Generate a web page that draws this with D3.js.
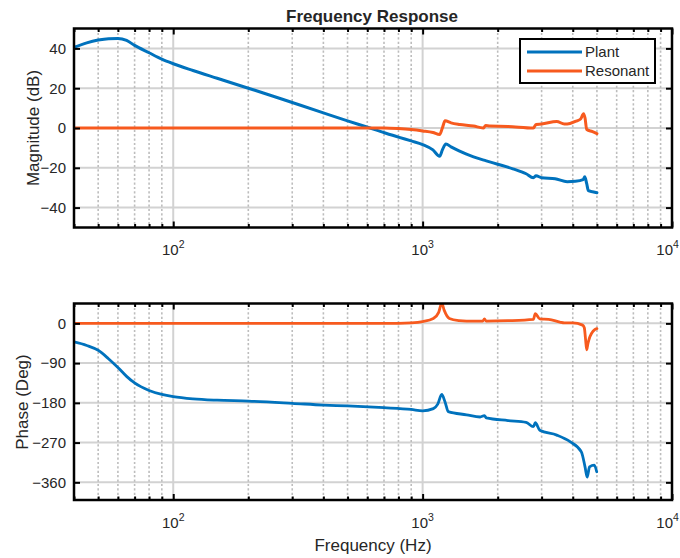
<!DOCTYPE html>
<html><head><meta charset="utf-8">
<script src="https://cdn.jsdelivr.net/npm/d3@7"></script>
<style>
body{margin:0;background:#fff}
text{font-family:"Liberation Sans",Arial,Helvetica,sans-serif;fill:#262626}
</style>
</head><body>
<svg id="c" width="680" height="558"></svg>
<script>
// ---------- data ----------
const seriesNames = ["Plant", "Resonant"];
const seriesColors = ["#0072BD", "#F75A1E"];

const xMajorTicks = [100, 1000, 10000];
const xMinorTicks = [40, 50, 60, 70, 80, 90, 200, 300, 400, 500, 600, 700, 800, 900,
                     2000, 3000, 4000, 5000, 6000, 7000, 8000, 9000];
const magTicks = [-40, -20, 0, 20, 40];
const phaseTicks = [-360, -270, -180, -90, 0];

const plantMagFreq = [40, 45, 50, 55, 60, 65, 70, 80, 90, 100, 120, 150, 200, 250, 300, 400, 500, 615,
  700, 800, 900, 1000, 1100, 1170, 1200, 1240, 1300, 1400, 1600, 1800, 2000, 2300, 2600, 2780, 2850,
  3000, 3400, 3800, 4100, 4400, 4470, 4550, 4620, 4800, 5000];
const plantMag = [40.5, 42.8, 44.2, 44.9, 45.0, 44.0, 41.5, 37.8, 34.6, 32.3, 28.9, 25.0, 20.0, 16.1, 12.8, 7.6, 3.6, 0,
  -2.3, -4.6, -6.5, -8.3, -11.0, -14.2, -11.0, -8.0, -9.5, -11.5, -14.5, -16.5, -18.2, -20.5, -23.0, -25.0, -24.0,
  -25.0, -25.5, -27.0, -26.8, -26.0, -24.5, -28.0, -31.5, -32.0, -32.5];

const resMagFreq = [40, 700, 800, 900, 1000, 1100, 1170, 1200, 1230, 1300, 1410, 1600, 1750, 1790, 1850, 2200,
  2780, 2850, 3000, 3450, 3700, 3900, 4140, 4300, 4420, 4480, 4550, 4800, 5000];
const resMag = [0, 0, -0.3, -0.8, -1.5, -2.3, -3.3, 0, 3.6, 2.6, 1.8, 1.0, 0.0, 1.2, 1.0, 0.8,
  0.0, 1.8, 2.0, 3.3, 2.0, 2.3, 3.5, 4.5, 7.2, 5.0, -0.8, -1.8, -2.8];

const plantPhaseFreq = [40, 45, 50, 55, 60, 65, 70, 80, 90, 100, 120, 150, 200, 300, 400, 500, 700, 900,
  1000, 1104, 1150, 1193, 1230, 1268, 1500, 1700, 1770, 1800, 2200, 2600, 2780, 2830, 2950, 3450, 3900,
  4330, 4480, 4570, 4670, 4880, 4990];
const plantPhase = [-42, -50, -61, -80, -100, -120, -135, -152, -161, -166, -171, -174, -176, -181, -185, -187, -191, -195,
  -198, -193, -183, -161, -178, -200, -207, -212, -209, -214, -220, -224, -234, -225, -242, -253, -268,
  -291, -325, -348, -325, -321, -336];

const resPhaseFreq = [40, 800, 900, 1000, 1104, 1160, 1193, 1220, 1280, 1400, 1500, 1740, 1770, 1800, 2200,
  2780, 2830, 2950, 3200, 3550, 3700, 4000, 4380, 4450, 4500, 4550, 4600, 4650, 4900, 5000];
const resPhase = [0, 0, 1, 4, 11, 25, 46, 30, 11, 6, 5, 5, 10, 5, 6,
  9, 22, 10, 9, 3, 1, 1, -4, -10, -35, -60, -46, -36, -14, -12];

// ---------- layout ----------
const svg = d3.select("#c");
const x = d3.scaleLog().domain([40, 10000]).range([74, 672]);

const panels = [
  { top: 28.5, bottom: 227.5, domain: [-50, 50], ticks: magTicks, label: "Magnitude (dB)", labelX: 39, labelY: 128,
    series: [[plantMagFreq, plantMag], [resMagFreq, resMag]], xLabY: 255, width: 3 },
  { top: 303.5, bottom: 500, domain: [-400, 45], ticks: phaseTicks, label: "Phase (Deg)", labelX: 28, labelY: 402,
    series: [[plantPhaseFreq, plantPhase], [resPhaseFreq, resPhase]], xLabY: 528, width: 2.8 }
];

panels.forEach((p, pi) => {
  const y = d3.scaleLinear().domain(p.domain).range([p.bottom, p.top]);
  const x0 = x.range()[0], x1 = x.range()[1];
  const g = svg.append("g");

  // major grid
  g.append("g").selectAll("line").data(xMajorTicks).join("line")
    .attr("x1", d => x(d)).attr("x2", d => x(d)).attr("y1", p.top).attr("y2", p.bottom)
    .attr("stroke", "#d2d2d2").attr("stroke-width", 2);
  g.append("g").selectAll("line").data(p.ticks).join("line")
    .attr("x1", x0).attr("x2", x1).attr("y1", d => y(d)).attr("y2", d => y(d))
    .attr("stroke", "#d2d2d2").attr("stroke-width", 2);
  // minor grid (dotted)
  g.append("g").selectAll("line").data(xMinorTicks).join("line")
    .attr("x1", d => x(d)).attr("x2", d => x(d)).attr("y1", p.top).attr("y2", p.bottom)
    .attr("stroke", "#bdbdbd").attr("stroke-width", 1.6).attr("stroke-dasharray", "2.2,2.2");

  // clip
  const cid = "clip" + pi;
  svg.append("clipPath").attr("id", cid).append("rect")
    .attr("x", x0).attr("y", p.top).attr("width", x1 - x0).attr("height", p.bottom - p.top);

  // lines
  const line = d3.line().x(d => x(d[0])).y(d => y(d[1])).curve(d3.curveMonotoneX);
  const lg = g.append("g").attr("clip-path", `url(#${cid})`);
  p.series.forEach((s, si) => {
    const pts = s[0].map((f, i) => [f, s[1][i]]);
    lg.append("path").datum(pts).attr("d", line).attr("fill", "none")
      .attr("stroke", seriesColors[si]).attr("stroke-width", p.width)
      .attr("stroke-linejoin", "round").attr("stroke-linecap", "round");
  });

  // ticks via d3 axes (inward)
  const styleAxis = sel => { sel.select(".domain").remove(); sel.selectAll(".tick line").attr("stroke", "#000").attr("stroke-width", 2); };
  g.append("g").attr("transform", `translate(0,${p.bottom})`)
    .call(d3.axisBottom(x).tickValues(xMajorTicks).tickSizeInner(-6).tickSizeOuter(0).tickFormat(""))
    .call(styleAxis);
  g.append("g").attr("transform", `translate(0,${p.top})`)
    .call(d3.axisTop(x).tickValues(xMajorTicks).tickSizeInner(-6).tickSizeOuter(0).tickFormat(""))
    .call(styleAxis);
  g.append("g").attr("transform", `translate(0,${p.bottom})`)
    .call(d3.axisBottom(x).tickValues(xMinorTicks).tickSizeInner(-3.5).tickSizeOuter(0).tickFormat(""))
    .call(styleAxis);
  g.append("g").attr("transform", `translate(0,${p.top})`)
    .call(d3.axisTop(x).tickValues(xMinorTicks).tickSizeInner(-3.5).tickSizeOuter(0).tickFormat(""))
    .call(styleAxis);
  g.append("g").attr("transform", `translate(${x0},0)`)
    .call(d3.axisLeft(y).tickValues(p.ticks).tickSizeInner(-6).tickSizeOuter(0).tickPadding(8))
    .call(styleAxis)
    .call(s => s.selectAll(".tick text").attr("font-size", 15).attr("fill", "#262626")
      .attr("font-family", '"Liberation Sans",Arial,sans-serif'));
  g.append("g").attr("transform", `translate(${x1},0)`)
    .call(d3.axisRight(y).tickValues(p.ticks).tickSizeInner(-6).tickSizeOuter(0).tickFormat(""))
    .call(styleAxis);

  // x tick labels 10^n (kept inside the page at the right edge)
  g.append("g").selectAll("text").data(xMajorTicks).join("text")
    .attr("x", d => x(d)).attr("y", p.xLabY).attr("text-anchor", "middle").attr("font-size", 15)
    .each(function(d) {
      const t = d3.select(this);
      t.append("tspan").text("10");
      t.append("tspan").attr("dy", -7).attr("font-size", 10.5).text(Math.round(Math.log10(d)));
      const bb = this.getBBox();
      if (bb.x + bb.width > 679) t.attr("x", x(d) - (bb.x + bb.width - 679));
    });

  // frame
  g.append("rect").attr("x", x0).attr("y", p.top).attr("width", x1 - x0).attr("height", p.bottom - p.top)
    .attr("fill", "none").attr("stroke", "#000").attr("stroke-width", 2.5);

  // y label
  g.append("text").attr("transform", `translate(${p.labelX},${p.labelY}) rotate(-90)`)
    .attr("text-anchor", "middle").attr("font-size", 17).text(p.label);

  if (pi === 0) {
    // legend
    const lgd = g.append("g");
    lgd.append("rect").attr("x", 520).attr("y", 39).attr("width", 135).attr("height", 44)
      .attr("fill", "#fff").attr("stroke", "#000").attr("stroke-width", 2);
    seriesNames.forEach((n, i) => {
      const yy = 52 + i * 19;
      lgd.append("line").attr("x1", 527).attr("x2", 582).attr("y1", yy).attr("y2", yy)
        .attr("stroke", seriesColors[i]).attr("stroke-width", 3);
      lgd.append("text").attr("x", 585).attr("y", yy + 5).attr("font-size", 15).text(n);
    });
  }
});

// title and x label
svg.append("text").attr("x", 372).attr("y", 22).attr("text-anchor", "middle")
  .attr("font-size", 17).attr("font-weight", "bold").text("Frequency Response");
svg.append("text").attr("x", 373).attr("y", 551).attr("text-anchor", "middle")
  .attr("font-size", 17).text("Frequency (Hz)");
</script>
</body></html>
